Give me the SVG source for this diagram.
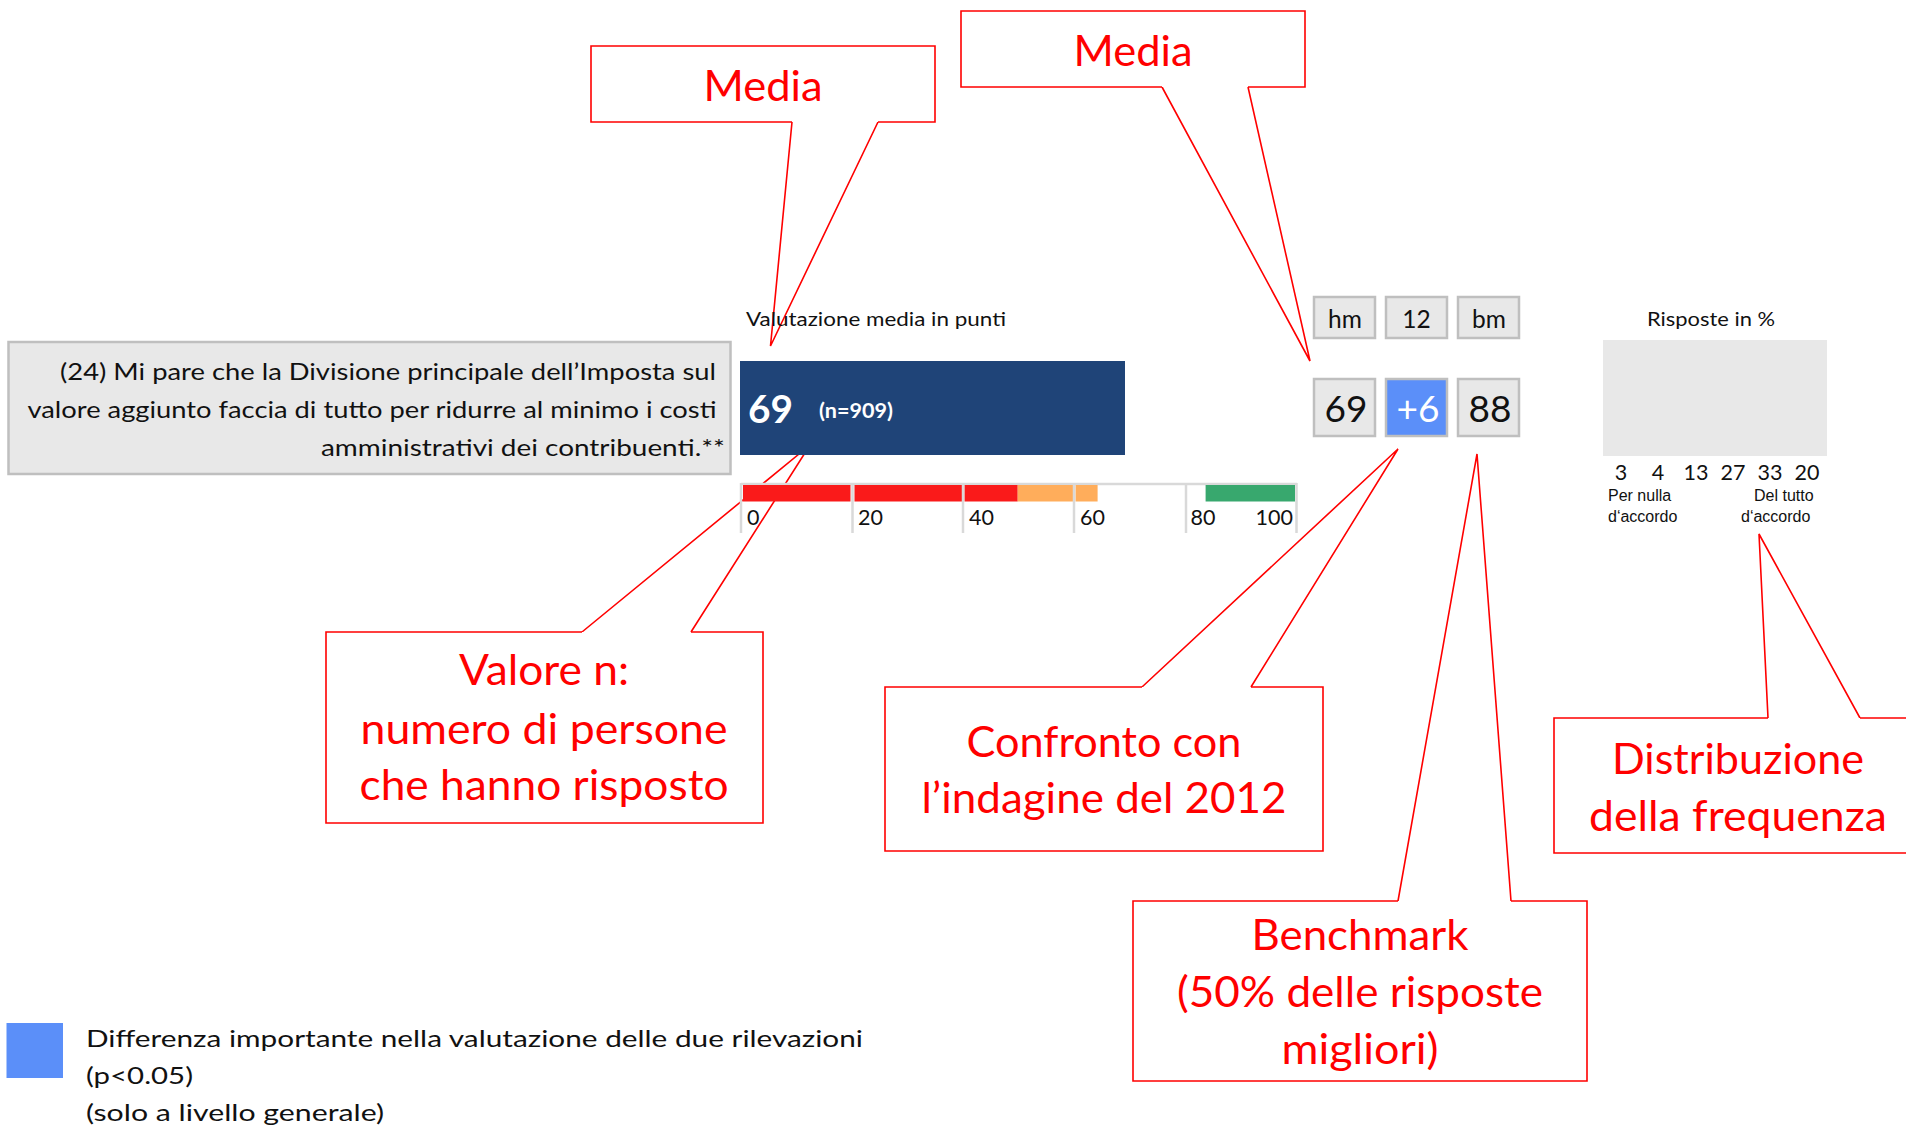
<svg xmlns="http://www.w3.org/2000/svg" width="1906" height="1127" viewBox="0 0 1906 1127">
<style>
.t{font-family:Lato,"Open Sans","Liberation Sans",sans-serif;fill:#111}
.a{font-family:"Liberation Sans",Arial,sans-serif;fill:#111;font-size:16px}
.red{font-family:Lato,"Open Sans","Liberation Sans",sans-serif;fill:#ff0000;font-size:42px;text-anchor:middle}
.cb{fill:#ffffff;stroke:#ff0000;stroke-width:1.6}
.wedge{fill:none;stroke:#ff0000;stroke-width:1.6;stroke-linejoin:miter}
.gbox{fill:#e8e8e8;stroke:#bfbfbf;stroke-width:2.5}
.tick{stroke:#d9d9d9;stroke-width:2.5}
.mid{text-anchor:middle}
</style>
<rect width="1906" height="1127" fill="#ffffff"/>

<g id="connectors">
<polyline class="wedge" points="792,122 770.5,346 878,122"/>
<polyline class="wedge" points="1162,87 1310,361 1248,87"/>
<polyline class="wedge" points="582,632 810,445 691,632"/>
<polyline class="wedge" points="1142,687 1398,449 1251,687"/>
<polyline class="wedge" points="1398,901 1477,454 1511,901"/>
<polyline class="wedge" points="1768,718 1759,534 1860,718"/>
</g>

<g id="question">
<rect class="gbox" x="8.5" y="342" width="722" height="132" stroke-width="3"/>
<text class="t" font-size="23.5" x="60" y="380" textLength="656" lengthAdjust="spacingAndGlyphs">(24) Mi pare che la Divisione principale dell’Imposta sul</text>
<text class="t" font-size="23.5" x="27.5" y="418" textLength="689" lengthAdjust="spacingAndGlyphs">valore aggiunto faccia di tutto per ridurre al minimo i costi</text>
<text class="t" font-size="23.5" x="321" y="456" textLength="404" lengthAdjust="spacingAndGlyphs">amministrativi dei contribuenti.**</text>
</g>

<g id="mean-bar">
<text class="t" font-size="19.5" x="746" y="326" textLength="260" lengthAdjust="spacingAndGlyphs">Valutazione media in punti</text>
<rect x="740" y="361" width="385" height="94" fill="#1f4478"/>
<text class="t" font-size="39" font-weight="bold" x="748" y="423" style="fill:#ffffff" textLength="45" lengthAdjust="spacingAndGlyphs">69</text>
<text class="t" font-size="20" font-weight="bold" x="819" y="418" style="fill:#ffffff" textLength="74" lengthAdjust="spacingAndGlyphs">(n=909)</text>
</g>

<g id="scale">
<line class="tick" x1="741" y1="484" x2="1297" y2="484"/>
<rect x="743" y="485" width="107.5" height="16.5" fill="#fa1a1a"/>
<rect x="854.5" y="485" width="107.5" height="16.5" fill="#fa1a1a"/>
<rect x="964.5" y="485" width="53.2" height="16.5" fill="#fa1a1a"/>
<rect x="1017.7" y="485" width="55.3" height="16.5" fill="#ffad5b"/>
<rect x="1075.5" y="485" width="22.1" height="16.5" fill="#ffad5b"/>
<rect x="1205.6" y="485" width="89.4" height="16.5" fill="#38a86e"/>
<line class="tick" x1="741" y1="483" x2="741" y2="533"/>
<line class="tick" x1="852.5" y1="483" x2="852.5" y2="533"/>
<line class="tick" x1="963" y1="483" x2="963" y2="533"/>
<line class="tick" x1="1074" y1="483" x2="1074" y2="533"/>
<line class="tick" x1="1186" y1="483" x2="1186" y2="533"/>
<line class="tick" x1="1296.5" y1="483" x2="1296.5" y2="533"/>
<text class="t" font-size="21.5" x="747" y="525">0</text>
<text class="t" font-size="21.5" x="858" y="525">20</text>
<text class="t" font-size="21.5" x="969" y="525">40</text>
<text class="t" font-size="21.5" x="1080" y="525">60</text>
<text class="t" font-size="21.5" x="1190.5" y="525">80</text>
<text class="t" font-size="21.5" x="1293" y="525" text-anchor="end">100</text>
</g>

<g id="header-boxes">
<rect class="gbox" x="1314" y="297" width="61" height="41"/>
<rect class="gbox" x="1386" y="297" width="61" height="41"/>
<rect class="gbox" x="1458" y="297" width="61" height="41"/>
<text class="t mid" font-size="24.5" x="1345" y="328">hm</text>
<text class="t mid" font-size="24.5" x="1416.5" y="328">12</text>
<text class="t mid" font-size="24.5" x="1489" y="328">bm</text>
</g>

<g id="value-boxes">
<rect class="gbox" x="1314" y="379" width="61" height="57"/>
<rect class="gbox" x="1386" y="379" width="61" height="57" style="fill:#5b8ff9"/>
<rect class="gbox" x="1458" y="379" width="61" height="57"/>
<text class="t mid" font-size="37" x="1346" y="422">69</text>
<text class="t mid" font-size="37" x="1418" y="422" style="fill:#ffffff">+6</text>
<text class="t mid" font-size="37" x="1490" y="422">88</text>
</g>

<g id="distribution">
<text class="t" font-size="19.5" x="1647" y="326" textLength="128" lengthAdjust="spacingAndGlyphs">Risposte in %</text>
<rect x="1603" y="340" width="224" height="116" fill="#e8e8e8"/>
<text class="t mid" font-size="21.5" x="1621" y="480">3</text>
<text class="t mid" font-size="21.5" x="1658" y="480">4</text>
<text class="t mid" font-size="21.5" x="1696" y="480">13</text>
<text class="t mid" font-size="21.5" x="1733" y="480">27</text>
<text class="t mid" font-size="21.5" x="1770" y="480">33</text>
<text class="t mid" font-size="21.5" x="1807" y="480">20</text>
<text class="a" x="1608" y="501">Per nulla</text>
<text class="a" x="1608" y="522">d‘accordo</text>
<text class="a" x="1754" y="501">Del tutto</text>
<text class="a" x="1741" y="522">d‘accordo</text>
</g>

<g id="legend">
<rect x="6.5" y="1023" width="56.5" height="55" fill="#5b8ff9"/>
<text class="t" font-size="24" x="86" y="1047" textLength="777" lengthAdjust="spacingAndGlyphs">Differenza importante nella valutazione delle due rilevazioni</text>
<text class="t" font-size="24" x="86" y="1084" textLength="107" lengthAdjust="spacingAndGlyphs">(p&lt;0.05)</text>
<text class="t" font-size="24" x="86" y="1121" textLength="298" lengthAdjust="spacingAndGlyphs">(solo a livello generale)</text>
</g>

<g id="callout-media-1">
<path class="cb" d="M792,122 H591 V46 H935 V122 H878"/>
<text class="red" x="763" y="101" textLength="119" lengthAdjust="spacingAndGlyphs">Media</text>
</g>

<g id="callout-media-2">
<path class="cb" d="M1162,87 H961 V11 H1305 V87 H1248"/>
<text class="red" x="1133" y="66" textLength="119" lengthAdjust="spacingAndGlyphs">Media</text>
</g>

<g id="callout-n">
<path class="cb" d="M582,632 H326 V823 H763 V632 H691"/>
<text class="red" x="544" y="685" textLength="170" lengthAdjust="spacingAndGlyphs">Valore n:</text>
<text class="red" x="544" y="744" textLength="367" lengthAdjust="spacingAndGlyphs">numero di persone</text>
<text class="red" x="544" y="800" textLength="369" lengthAdjust="spacingAndGlyphs">che hanno risposto</text>
</g>

<g id="callout-confronto">
<path class="cb" d="M1142,687 H885 V851 H1323 V687 H1251"/>
<text class="red" x="1104" y="757" textLength="275" lengthAdjust="spacingAndGlyphs">Confronto con</text>
<text class="red" x="1104" y="813" textLength="365" lengthAdjust="spacingAndGlyphs">l’indagine del 2012</text>
</g>

<g id="callout-benchmark">
<path class="cb" d="M1398,901 H1133 V1081 H1587 V901 H1511"/>
<text class="red" x="1360" y="950" textLength="217" lengthAdjust="spacingAndGlyphs">Benchmark</text>
<text class="red" x="1360" y="1007" textLength="366" lengthAdjust="spacingAndGlyphs">(50% delle risposte</text>
<text class="red" x="1360" y="1064" textLength="157" lengthAdjust="spacingAndGlyphs">migliori)</text>
</g>

<g id="callout-distribuzione">
<path class="cb" d="M1768,718 H1554 V853 H1922 V718 H1860"/>
<text class="red" x="1738" y="774" textLength="252" lengthAdjust="spacingAndGlyphs">Distribuzione</text>
<text class="red" x="1738" y="831" textLength="298" lengthAdjust="spacingAndGlyphs">della frequenza</text>
</g>
</svg>
